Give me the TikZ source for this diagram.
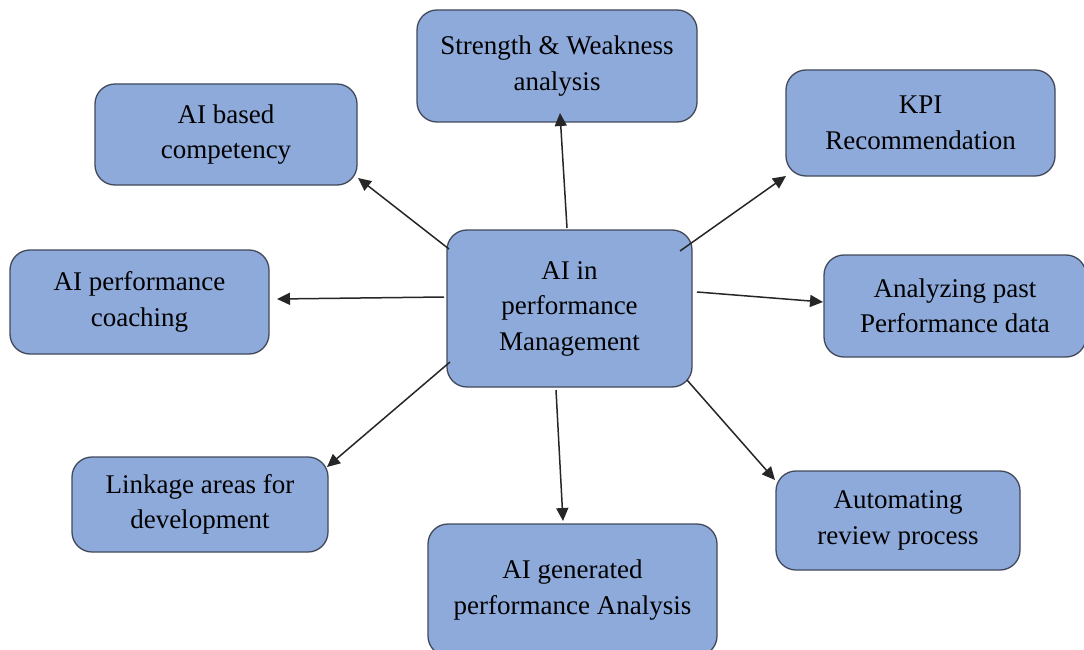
\documentclass[tikz,border=0pt]{standalone}
\usepackage{fontspec}
\setmainfont{Liberation Serif}
\usetikzlibrary{arrows.meta}
\definecolor{boxfill}{HTML}{8EAADB}
\definecolor{boxline}{HTML}{41495A}
\begin{document}
\begin{tikzpicture}[x=1pt,y=-1pt,
  box/.style={draw=boxline, line width=1.3pt, fill=boxfill, rounded corners=20pt, align=center, font=\fontsize{27}{35.5}\selectfont, inner sep=0pt},
  conn/.style={draw=black!85, line width=1.5pt, -{Triangle[length=13pt,width=12pt]}}]
\useasboundingbox (0,0) rectangle (1084,650);
\node[box, minimum width=280pt, minimum height=112pt] (sw) at (557,66) {Strength \& Weakness\\analysis};
\node[box, minimum width=269pt, minimum height=106pt] (kpi) at (920.5,123) {KPI\\Recommendation};
\node[box, minimum width=262pt, minimum height=101pt] (comp) at (226,134.5) {AI based\\competency};
\node[box, minimum width=245pt, minimum height=157pt] (c) at (569.5,308.5) {AI in\\performance\\Management};
\node[box, minimum width=259pt, minimum height=104pt] (coach) at (139.5,302) {AI performance\\coaching};
\node[box, minimum width=262pt, minimum height=102pt] (past) at (955,306) {Analyzing past\\Performance data};
\node[box, minimum width=256pt, minimum height=95pt] (link) at (200,504.5) {Linkage areas for\\development};
\node[box, minimum width=289pt, minimum height=132pt] (gen) at (572.5,590) {AI generated\\performance Analysis};
\node[box, minimum width=244pt, minimum height=99pt] (auto) at (898,520.5) {Automating\\review process};
\draw[conn] ([shift={(-2.5,-80.5)}]c.center) -- ([shift={(3,47)}]sw.center);
\draw[conn] ([shift={(-120.5,-59.5)}]c.center) -- ([shift={(132,43.5)}]comp.center);
\draw[conn] ([shift={(110.5,-57.5)}]c.center) -- ([shift={(-134.5,53)}]kpi.center);
\draw[conn] ([shift={(-125.5,-11.5)}]c.center) -- ([shift={(137.5,-3)}]coach.center);
\draw[conn] ([shift={(127.5,-16.5)}]c.center) -- ([shift={(-132,-4)}]past.center);
\draw[conn] ([shift={(-119.5,53.5)}]c.center) -- ([shift={(127,-37.5)}]link.center);
\draw[conn] ([shift={(-13.5,81.5)}]c.center) -- ([shift={(-9.5,-69)}]gen.center);
\draw[conn] ([shift={(117.5,71.5)}]c.center) -- ([shift={(-123,-40.5)}]auto.center);
\end{tikzpicture}
\end{document}
